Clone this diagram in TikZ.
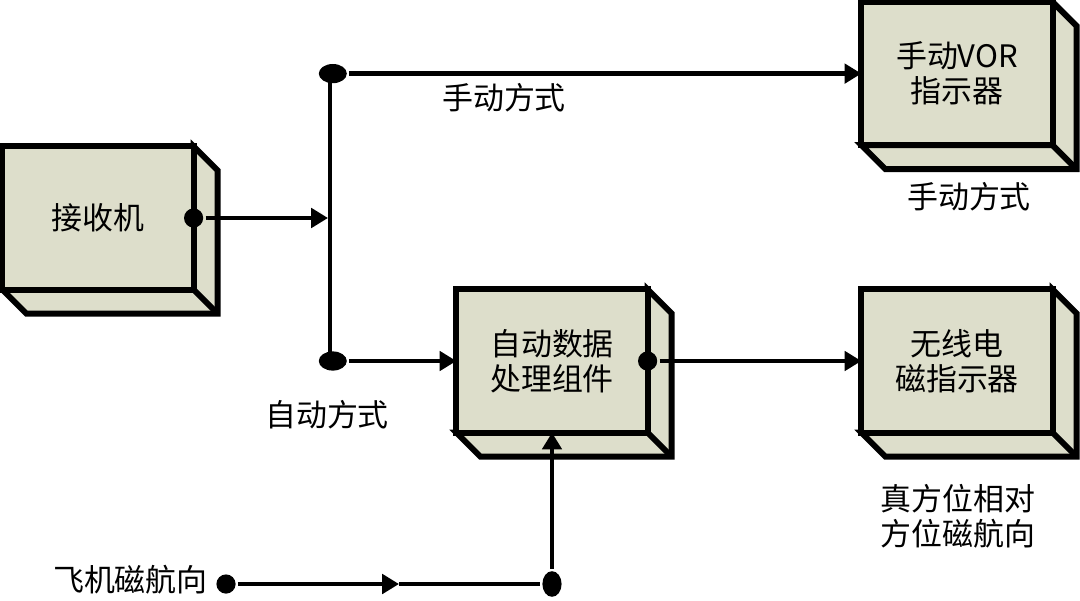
\documentclass[tikz,border=0pt]{standalone}
\usepackage{fontspec}
\newfontfamily\cjk{Noto Sans CJK SC}
\usepackage{tikz}
\usetikzlibrary{arrows.meta, backgrounds, positioning, shapes.geometric}
\definecolor{boxfill}{RGB}{221,222,203}
\newcommand{\drawdepth}[1]{%
  \begin{scope}[on background layer]
    \filldraw[fill=boxfill, line width=4.2pt] (#1.north east) -- ++(0.6,-0.6) |- ([shift={(0.6,-0.6)}]#1.south west) -- (#1.south west) -- (#1.south east) -- cycle;
    \draw[line width=4.2pt] (#1.south east) -- ++(0.6,-0.6);
  \end{scope}}

\begin{document}
\begin{tikzpicture}[>={Triangle[length=0.42cm,width=0.48cm]}, line width=3.4pt,
		font=\cjk\fontsize{22}{25}\selectfont,
		unit/.style={draw, fill=boxfill, line width=4.2pt, minimum width=4.78cm, minimum height=3.58cm, outer sep=0pt, align=center},
		jdot/.style={circle, fill, inner sep=0pt, minimum size=0.48cm},
		jdotw/.style={ellipse, fill, inner sep=0pt, minimum width=0.7cm, minimum height=0.48cm},
		jdoth/.style={ellipse, fill, inner sep=0pt, minimum width=0.48cm, minimum height=0.64cm}]
		\useasboundingbox (0,0) rectangle (27,15);
		\node[unit] (A) at (2.45,9.55) {接收机};
		\node[unit] (B) at (23.925,13.16) {手动VOR\\指示器};
		\node[unit] (C) at (13.8,5.975) {自动数据\\处理组件};
		\node[unit] (D) at (23.925,5.975) {无线电\\磁指示器};
		\drawdepth{A} \drawdepth{B} \drawdepth{C} \drawdepth{D}
		
		\coordinate (T) at (8.25,13.16);
		\coordinate (M) at (8.2,9.55);
		\coordinate (U) at (8.25,5.975);
		\draw (T)--(U);
		\node[jdot] (a1) at (A.east) {};
		\draw [->](a1)--(M);
		\node[jdotw] (t1) at (8.32,13.16) {};
		\draw [->](t1)--(B);
		\node[jdotw] (u1) at (8.32,5.975) {};
		\draw [->](u1)--(C);
		\node[jdot] (c1) at (C.east) {};
		\draw [->](c1)--(D);
		
		\node (L1) at (12.6,12.55) {手动方式};
		\node (L2) at (8.175,4.625) {自动方式};
		\node (L3) at (24.225,10.075) {手动方式};
		\node[align=center] (L4) at (23.94,2.09) {真方位相对\\方位磁航向};
		
		\node (L5) at (3.26,0.5) {飞机磁航向};
		\node[jdot] (f1) at (5.65,0.4) {};
		\coordinate (F) at (9.975,0.4);
		\node[jdoth] (f2) at (13.8,0.4) {};
		\draw [->](f1)--(F); \draw (F)--(f2);
		\draw [->](f2)--(C.south);
\end{tikzpicture}
\end{document}
